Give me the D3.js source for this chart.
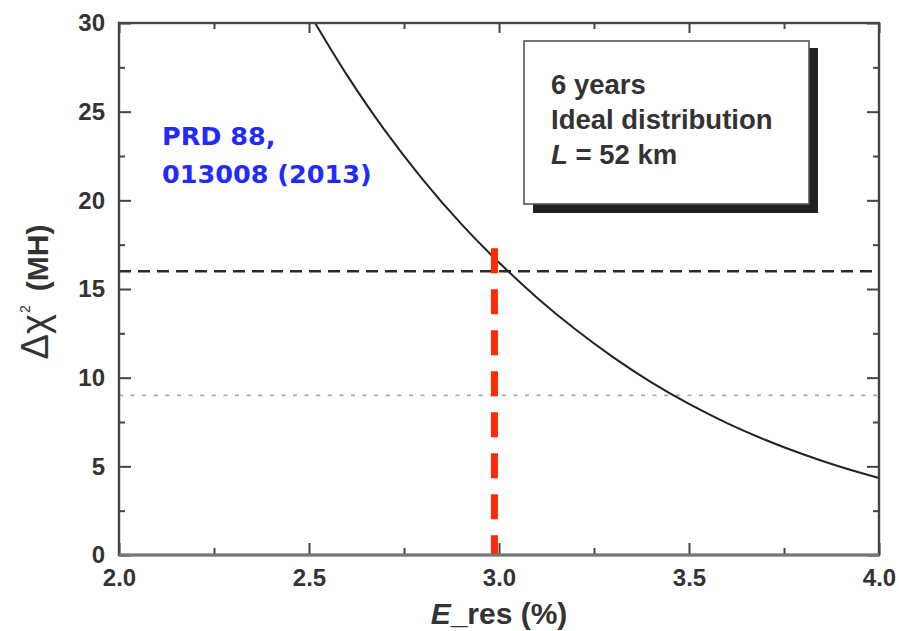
<!DOCTYPE html>
<html>
<head>
<meta charset="utf-8">
<script src="https://cdn.jsdelivr.net/npm/d3@7"></script>
<style>
  html, body { margin: 0; padding: 0; background: #fff; }
  svg { display: block; }
</style>
</head>
<body>
<svg id="chart" width="899" height="631"></svg>
<script>
// ---- data ----
const eres  = [2.516, 2.6, 2.7, 2.8, 2.9, 3.0, 3.1, 3.2, 3.3, 3.4, 3.5, 3.6, 3.7, 3.8, 3.9, 4.0];
const dchi2 = [30.0, 27.06, 23.93, 21.16, 18.69, 16.49, 14.51, 12.74, 11.16, 9.75, 8.52, 7.44, 6.50, 5.68, 4.96, 4.34];
const xTicks = [2.0, 2.5, 3.0, 3.5, 4.0];
const xMinor = [2.25, 2.75, 3.25, 3.75];
const yTicks = [0, 5, 10, 15, 20, 25, 30];
const yMinor = [2.5, 7.5, 12.5, 17.5, 22.5, 27.5];
const threeSigma = 16;     // black dashed
const twoSigma = 9;        // grey dotted
const redX = 2.988;        // red dashed vertical
const redTop = 17.3;
const boxLines = ["6 years", "Ideal distribution", "= 52 km"];
const refLines = ["PRD 88,", "013008 (2013)"];

// ---- layout ----
const svg = d3.select("#chart");
const M = { left: 119, right: 20, top: 23, bottom: 76 };
const W = 899, H = 631;
const x = d3.scaleLinear().domain([2.0, 4.0]).range([M.left, W - M.right]);
const y = d3.scaleLinear().domain([0, 30]).range([H - M.bottom, M.top]);
const font = "'Liberation Sans', Arial, sans-serif";
const axisCol = "#444";

// ---- reference lines ----
svg.append("line")
  .attr("x1", x(2.0)).attr("x2", x(4.0))
  .attr("y1", y(twoSigma)).attr("y2", y(twoSigma))
  .attr("stroke", "#aaa").attr("stroke-width", 1.6)
  .attr("stroke-dasharray", "4,7.6");

svg.append("line")
  .attr("x1", x(2.0)).attr("x2", x(4.0))
  .attr("y1", y(threeSigma)).attr("y2", y(threeSigma))
  .attr("stroke", "#2a2a2a").attr("stroke-width", 2.6)
  .attr("stroke-dasharray", "12,7");

// ---- curve ----
const line = d3.line().x((d, i) => x(eres[i])).y(d => y(d)).curve(d3.curveCatmullRom);
svg.append("path")
  .attr("d", line(dchi2))
  .attr("fill", "none").attr("stroke", "#222").attr("stroke-width", 2);

// ---- red dashed vertical ----
svg.append("line")
  .attr("x1", x(redX)).attr("x2", x(redX))
  .attr("y1", y(redTop)).attr("y2", y(0))
  .attr("stroke", "#ff2a00").attr("stroke-width", 7)
  .attr("stroke-dasharray", "25,16");

// ---- axes ----
function styleAxis(g, labels) {
  g.select(".domain").remove();
  g.selectAll(".tick line").attr("stroke", axisCol).attr("stroke-width", 2);
  if (labels) {
    g.selectAll(".tick text")
      .attr("font-family", font).attr("font-weight", "bold")
      .attr("font-size", 24).attr("fill", "#333");
  }
}
const fmtX = d3.format(".1f");
svg.append("g").attr("transform", `translate(0,${y(0)})`)
  .call(d3.axisBottom(x).tickValues(xTicks).tickSize(-12).tickPadding(14).tickFormat(fmtX))
  .call(g => styleAxis(g, true));
svg.append("g").attr("transform", `translate(0,${y(0)})`)
  .call(d3.axisBottom(x).tickValues(xMinor).tickSize(-7).tickFormat(""))
  .call(g => styleAxis(g, false));
svg.append("g").attr("transform", `translate(0,${y(30)})`)
  .call(d3.axisTop(x).tickValues(xTicks).tickSize(-10).tickFormat(""))
  .call(g => styleAxis(g, false));
svg.append("g").attr("transform", `translate(0,${y(30)})`)
  .call(d3.axisTop(x).tickValues(xMinor).tickSize(-6).tickFormat(""))
  .call(g => styleAxis(g, false));

svg.append("g").attr("transform", `translate(${x(2.0)},0)`)
  .call(d3.axisLeft(y).tickValues(yTicks).tickSize(-12).tickPadding(14).tickFormat(d3.format("d")))
  .call(g => styleAxis(g, true));
svg.append("g").attr("transform", `translate(${x(2.0)},0)`)
  .call(d3.axisLeft(y).tickValues(yMinor).tickSize(-6).tickFormat(""))
  .call(g => styleAxis(g, false));
svg.append("g").attr("transform", `translate(${x(4.0)},0)`)
  .call(d3.axisRight(y).tickValues(yTicks).tickSize(-12).tickFormat(""))
  .call(g => styleAxis(g, false));
svg.append("g").attr("transform", `translate(${x(4.0)},0)`)
  .call(d3.axisRight(y).tickValues(yMinor).tickSize(-6).tickFormat(""))
  .call(g => styleAxis(g, false));

// frame
svg.append("rect")
  .attr("x", x(2.0)).attr("y", y(30))
  .attr("width", x(4.0) - x(2.0)).attr("height", y(0) - y(30))
  .attr("fill", "none").attr("stroke", axisCol).attr("stroke-width", 2.4);
svg.append("line")
  .attr("x1", x(2.0)).attr("x2", x(4.0)).attr("y1", y(0)).attr("y2", y(0))
  .attr("stroke", "#777").attr("stroke-width", 3);

// ---- axis titles ----
const xt = svg.append("text")
  .attr("x", (x(2.0) + x(4.0)) / 2).attr("y", 624)
  .attr("text-anchor", "middle")
  .attr("font-family", font).attr("font-weight", "bold")
  .attr("font-size", 30).attr("fill", "#333");
xt.append("tspan").attr("font-style", "italic").text("E");
xt.append("tspan").text("_res (%)");

const yt = svg.append("text")
  .attr("transform", `translate(48,${(y(0) + y(30)) / 2 + 3}) rotate(-90)`)
  .attr("text-anchor", "middle")
  .attr("font-family", font).attr("fill", "#333");
yt.append("tspan").attr("font-size", 38).text("Δχ");
yt.append("tspan").attr("font-size", 14).attr("dy", -18).attr("dx", 1).text("2");
yt.append("tspan").attr("font-size", 30).attr("font-weight", "bold")
  .attr("dy", 18).attr("dx", 14).text("(MH)");

// ---- info box ----
const bx = 524, by = 41, bw = 285, bh = 163, sh = 9;
svg.append("rect").attr("x", bx + sh).attr("y", by + sh - 2)
  .attr("width", bw).attr("height", bh + 2).attr("fill", "#222");
svg.append("rect").attr("x", bx).attr("y", by)
  .attr("width", bw).attr("height", bh)
  .attr("fill", "#fff").attr("stroke", "#555").attr("stroke-width", 1.6);
const bt = svg.append("g").attr("font-family", font).attr("font-weight", "bold")
  .attr("font-size", 27.5).attr("fill", "#333");
bt.append("text").attr("x", 551).attr("y", 94).text(boxLines[0]);
bt.append("text").attr("x", 551).attr("y", 129).text(boxLines[1]);
const l3 = bt.append("text").attr("x", 551).attr("y", 164);
l3.append("tspan").attr("font-style", "italic").text("L");
l3.append("tspan").text(" " + boxLines[2]);

// ---- reference label ----
const rt = svg.append("g").attr("font-family", "'DejaVu Sans', Verdana, sans-serif")
  .attr("font-weight", "bold").attr("font-size", 25.5).attr("fill", "#1f2bff");
rt.append("text").attr("x", 162).attr("y", 145).text(refLines[0]);
rt.append("text").attr("x", 162).attr("y", 183).text(refLines[1]);
</script>
</body>
</html>
